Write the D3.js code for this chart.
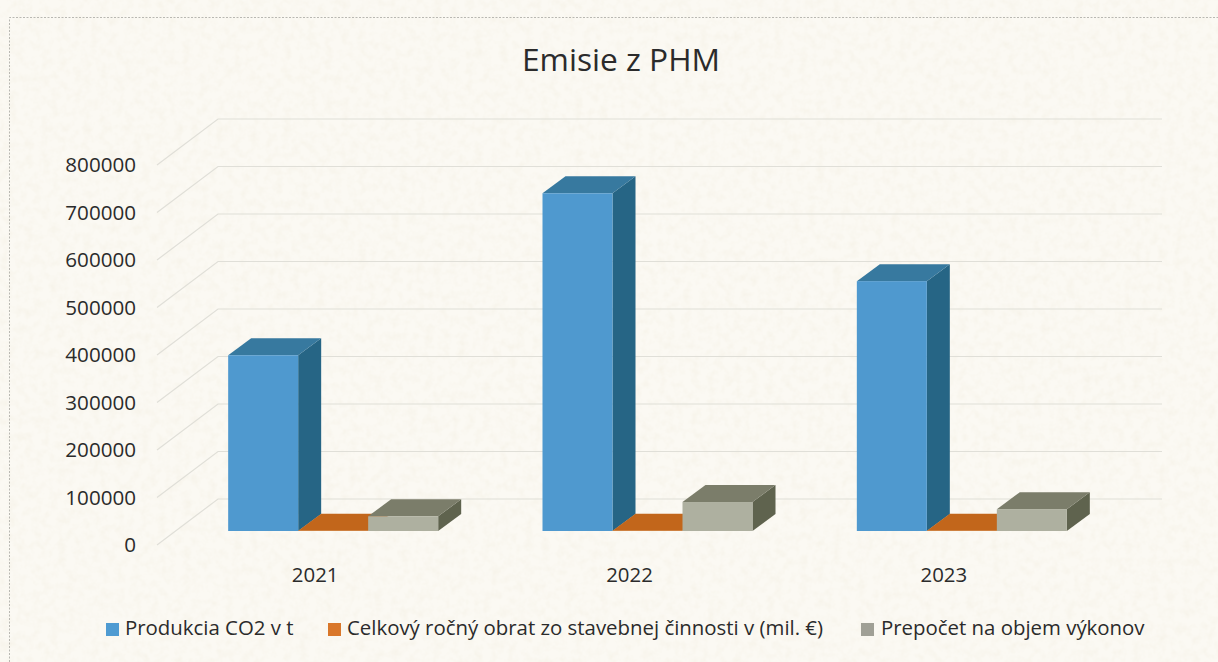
<!DOCTYPE html>
<html>
<head>
<meta charset="utf-8">
<script src="https://cdn.jsdelivr.net/npm/d3@7"></script>
<style>
  html, body { margin: 0; padding: 0; background: #fbf9f3; }
  svg { display: block; }
  text { font-family: "Open Sans", sans-serif; fill: #2b2b2b; }
</style>
</head>
<body>
<div id="chart"></div>
<script>
const years = ["2021", "2022", "2023"]
const seriesNames = [
  "Produkcia CO2 v t",
  "Celkový ročný obrat zo stavebnej činnosti v (mil. €)",
  "Prepočet na objem výkonov"
]
const co2 = [370000, 711000, 526000]
const obrat = [600, 600, 600]
const prepocet = [31000, 61000, 46000]
const yTicks = [0, 100000, 200000, 300000, 400000, 500000, 600000, 700000, 800000]
const seriesValues = [co2, obrat, prepocet]

// front, top and side colours of each series
const faces = [
  {front: "#4f99cf", top: "#37799f", side: "#266585", key: "#4f9bd2"},
  {front: "#c96a1c", top: "#c2661b", side: "#9c5015", key: "#d9772a"},
  {front: "#aeb0a0", top: "#7b7d6a", side: "#5f634e", key: "#a0a096"}
]

const width = 1218
const height = 662

// front plane of the axis, and how far the floor runs back
const plot = {left: 157, right: 1101, zero: 545, top: 165, backX: 61, backY: 46}
// bars stand part of the way into the floor
const bar = {inX: 18, inY: 14, depthX: 23, depthY: 17}

const x = d3.scaleBand().domain(years).range([plot.left + 1, plot.left + 944])
const xInner = d3.scaleBand().domain(d3.range(3)).range([0, 210])
const y = d3.scaleLinear().domain([0, 800000]).range([plot.zero, plot.top])

const svg = d3.select("#chart").append("svg")
  .attr("width", width)
  .attr("height", height)

// paper grain
const defs = svg.append("defs")
const grain = defs.append("filter").attr("id", "grain")
  .attr("x", 0).attr("y", 0).attr("width", "100%").attr("height", "100%")
grain.append("feTurbulence")
  .attr("type", "fractalNoise").attr("baseFrequency", 0.12).attr("numOctaves", 3).attr("seed", 4)
grain.append("feColorMatrix").attr("type", "matrix")
  .attr("values", "0 0 0 0 0.75  0 0 0 0 0.68  0 0 0 0 0.5  0 0 0 0.3 -0.12")

svg.append("rect").attr("width", width).attr("height", height).attr("fill", "#fbf9f3")
svg.append("rect").attr("width", width).attr("height", height).attr("filter", "url(#grain)")

// scanned border of the chart area
svg.append("path")
  .attr("d", `M9.5,${height} V17.5 H${width}`)
  .attr("fill", "none")
  .attr("stroke", "#b9b8b2")
  .attr("stroke-width", 1)
  .attr("stroke-dasharray", "2 1.5")

// gridlines
svg.append("g").selectAll("path")
  .data(yTicks)
  .enter().append("path")
    .attr("d", d => `M${plot.left},${y(d)} L${plot.left + plot.backX},${y(d) - plot.backY} H1162`)
    .attr("fill", "none")
    .attr("stroke", "#e0dfd8")
    .attr("stroke-width", 1.2)

// y labels
const yAxis = d3.axisLeft(y).tickValues(yTicks).tickSize(0).tickPadding(0).tickFormat(d3.format("d"))
svg.append("g")
  .attr("transform", "translate(136,0)")
  .call(yAxis)
  .call(g => g.select(".domain").remove())
  .selectAll("text")
    .style("font-family", '"Open Sans", sans-serif')
    .style("font-size", "20.6px")
    .attr("fill", "#2b2b2b")

// x labels
const xAxis = d3.axisBottom(x).tickSize(0).tickPadding(0)
svg.append("g")
  .attr("transform", "translate(0,568)")
  .call(xAxis)
  .call(g => g.select(".domain").remove())
  .selectAll("text")
    .style("font-family", '"Open Sans", sans-serif')
    .style("font-size", "20.4px")
    .attr("fill", "#2b2b2b")

// 3d bars, drawn back to front in each group
const barOffset = (x.bandwidth() - xInner.range()[1]) / 2 + bar.inX
const barData = years.flatMap((year, i) =>
  seriesValues.map((values, s) => ({year, s, value: values[i]})))

const bars = svg.append("g").selectAll("g")
  .data(barData)
  .enter().append("g")

bars.each(function(d) {
  const g = d3.select(this)
  const x0 = x(d.year) + barOffset + xInner(d.s)
  const x1 = x0 + xInner.bandwidth()
  const base = plot.zero - bar.inY
  const top = y(d.value) - bar.inY
  const c = faces[d.s]
  g.append("path")
    .attr("fill", c.side)
    .attr("d", `M${x1},${top} l${bar.depthX},${-bar.depthY} V${base - bar.depthY} L${x1},${base} Z`)
  g.append("path")
    .attr("fill", c.top)
    .attr("d", `M${x0},${top} l${bar.depthX},${-bar.depthY} H${x1 + bar.depthX} L${x1},${top} Z`)
  g.append("rect")
    .attr("x", x0).attr("y", top)
    .attr("width", x1 - x0).attr("height", base - top)
    .attr("fill", c.front)
})

// title
svg.append("text")
  .attr("x", 621).attr("y", 71)
  .attr("text-anchor", "middle")
  .style("font-size", "31.7px")
  .text("Emisie z PHM")

// legend
const legendX = [106, 328, 861]
const legend = svg.append("g").selectAll("g")
  .data(seriesNames)
  .enter().append("g")
    .attr("transform", (d, i) => `translate(${legendX[i]},623)`)
legend.append("rect")
  .attr("width", 13).attr("height", 13)
  .attr("fill", (d, i) => faces[i].key)
legend.append("text")
  .attr("x", (d, i) => i == 2 ? 20 : 19).attr("y", 12)
  .style("font-size", "20.4px")
  .text(d => d)
</script>
</body>
</html>
